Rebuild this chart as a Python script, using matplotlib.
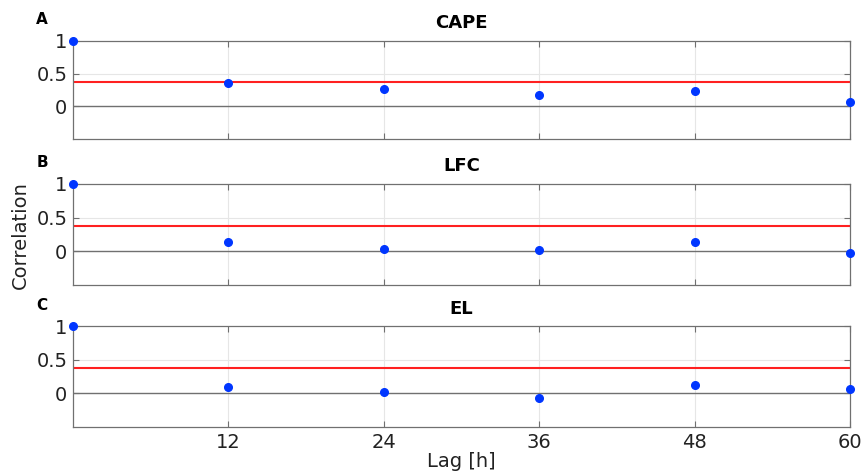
import matplotlib
matplotlib.use("Agg")
import matplotlib.pyplot as plt

lags = [0, 12, 24, 36, 48, 60]
cape = [1.0, 0.355, 0.26, 0.18, 0.23, 0.06]
lfc = [1.0, 0.14, 0.03, 0.025, 0.14, -0.02]
el = [1.0, 0.10, 0.02, -0.065, 0.12, 0.065]
threshold = 0.37
titles = ["CAPE", "LFC", "EL"]
letters = ["A", "B", "C"]
series = [cape, lfc, el]
xticks = [12, 24, 36, 48, 60]
yticks = [0, 0.5, 1]
ytick_labels = ["0", "0.5", "1"]

fig = plt.figure(figsize=(8.62, 4.71), dpi=100)
left, width = 73 / 862, (850 - 73) / 862
boxes = [(41, 139), (184, 285), (326, 427)]
edge = "#707070"
axes = []
for i, (top, bot) in enumerate(boxes):
    ax = fig.add_axes([left, 1 - bot / 471, width, (bot - top) / 471])
    axes.append(ax)
    ax.set_xlim(0, 60)
    ax.set_ylim(-0.5, 1)
    for x in xticks[:-1]:
        ax.axvline(x, color="#e6e6e6", lw=0.8, zorder=0)
    ax.axhline(0.5, color="#e6e6e6", lw=0.8, zorder=0)
    ax.axhline(0, color=edge, lw=1.0, zorder=1)
    ax.axhline(threshold, color="#ff2020", lw=1.5, zorder=2)
    ax.plot(lags, series[i], "o", color="#0036ff", ms=5.5, zorder=3, clip_on=False)
    ax.set_xticks(xticks)
    ax.set_yticks(yticks)
    ax.set_yticklabels(ytick_labels)
    ax.tick_params(direction="in", top=True, right=True, length=4, width=0.8,
                   color=edge, labelsize=14, pad=4, labelcolor="#222222")
    if i < 2:
        ax.set_xticklabels([])
    for s in ax.spines.values():
        s.set_color(edge)
        s.set_linewidth(0.9)
    ax.set_title(titles[i], fontsize=13, fontweight="bold", pad=9)
    fig.text(42 / 862, 1 - (top - 21) / 471, letters[i], fontsize=11,
             fontweight="bold", ha="center", va="center")

axes[2].set_xlabel("Lag [h]", fontsize=14, labelpad=0, color="#222222")
fig.text(20 / 862, 1 - 235 / 471, "Correlation", rotation=90, fontsize=14,
         ha="center", va="center", color="#222222")

fig.savefig("out.png", dpi=100)
